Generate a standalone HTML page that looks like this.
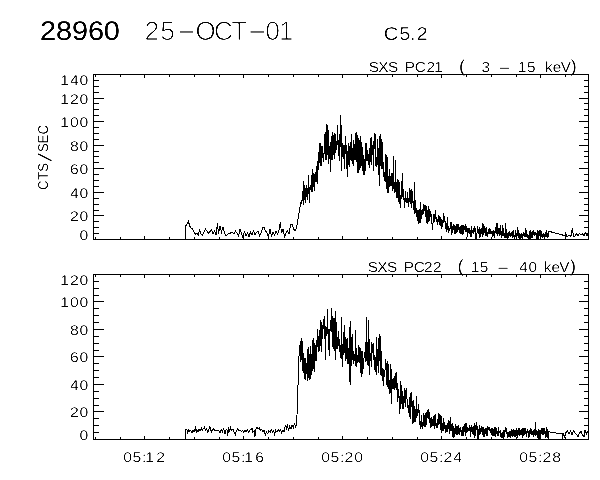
<!DOCTYPE html>
<html><head><meta charset="utf-8"><title>plot</title>
<style>html,body{margin:0;padding:0;background:#fff}svg{display:block}</style></head>
<body>
<svg width="600" height="480" viewBox="0 0 600 480">
<rect width="600" height="480" fill="#fff"/>
<g stroke="#000" stroke-width="1" fill="none" shape-rendering="crispEdges">
<rect x="93.5" y="74.5" width="495.0" height="165.0"/>
<rect x="93.5" y="274.5" width="495.0" height="165.0"/>
<path d="M93.5 239.5h10M588.5 239.5h-10M93.5 233.5h5M588.5 233.5h-5M93.5 227.5h5M588.5 227.5h-5M93.5 221.5h5M588.5 221.5h-5M93.5 215.5h10M588.5 215.5h-10M93.5 210.5h5M588.5 210.5h-5M93.5 204.5h5M588.5 204.5h-5M93.5 198.5h5M588.5 198.5h-5M93.5 192.5h10M588.5 192.5h-10M93.5 186.5h5M588.5 186.5h-5M93.5 180.5h5M588.5 180.5h-5M93.5 174.5h5M588.5 174.5h-5M93.5 168.5h10M588.5 168.5h-10M93.5 162.5h5M588.5 162.5h-5M93.5 156.5h5M588.5 156.5h-5M93.5 151.5h5M588.5 151.5h-5M93.5 145.5h10M588.5 145.5h-10M93.5 139.5h5M588.5 139.5h-5M93.5 133.5h5M588.5 133.5h-5M93.5 127.5h5M588.5 127.5h-5M93.5 121.5h10M588.5 121.5h-10M93.5 115.5h5M588.5 115.5h-5M93.5 109.5h5M588.5 109.5h-5M93.5 103.5h5M588.5 103.5h-5M93.5 98.5h10M588.5 98.5h-10M93.5 92.5h5M588.5 92.5h-5M93.5 86.5h5M588.5 86.5h-5M93.5 80.5h5M588.5 80.5h-5M93.5 74.5h10M588.5 74.5h-10M95.5 74.5v2.5M95.5 239.5v-2.5M120.5 74.5v2.5M120.5 239.5v-2.5M144.5 74.5v3.5M144.5 239.5v-3.5M169.5 74.5v2.5M169.5 239.5v-2.5M194.5 74.5v2.5M194.5 239.5v-2.5M219.5 74.5v2.5M219.5 239.5v-2.5M243.5 74.5v3.5M243.5 239.5v-3.5M268.5 74.5v2.5M268.5 239.5v-2.5M293.5 74.5v2.5M293.5 239.5v-2.5M318.5 74.5v2.5M318.5 239.5v-2.5M342.5 74.5v3.5M342.5 239.5v-3.5M367.5 74.5v2.5M367.5 239.5v-2.5M392.5 74.5v2.5M392.5 239.5v-2.5M417.5 74.5v2.5M417.5 239.5v-2.5M441.5 74.5v3.5M441.5 239.5v-3.5M466.5 74.5v2.5M466.5 239.5v-2.5M491.5 74.5v2.5M491.5 239.5v-2.5M516.5 74.5v2.5M516.5 239.5v-2.5M540.5 74.5v3.5M540.5 239.5v-3.5M565.5 74.5v2.5M565.5 239.5v-2.5"/>
<path d="M93.5 439.5h10M588.5 439.5h-10M93.5 432.5h5M588.5 432.5h-5M93.5 425.5h5M588.5 425.5h-5M93.5 418.5h5M588.5 418.5h-5M93.5 411.5h10M588.5 411.5h-10M93.5 405.5h5M588.5 405.5h-5M93.5 398.5h5M588.5 398.5h-5M93.5 391.5h5M588.5 391.5h-5M93.5 384.5h10M588.5 384.5h-10M93.5 377.5h5M588.5 377.5h-5M93.5 370.5h5M588.5 370.5h-5M93.5 363.5h5M588.5 363.5h-5M93.5 356.5h10M588.5 356.5h-10M93.5 350.5h5M588.5 350.5h-5M93.5 343.5h5M588.5 343.5h-5M93.5 336.5h5M588.5 336.5h-5M93.5 329.5h10M588.5 329.5h-10M93.5 322.5h5M588.5 322.5h-5M93.5 315.5h5M588.5 315.5h-5M93.5 308.5h5M588.5 308.5h-5M93.5 301.5h10M588.5 301.5h-10M93.5 295.5h5M588.5 295.5h-5M93.5 288.5h5M588.5 288.5h-5M93.5 281.5h5M588.5 281.5h-5M93.5 274.5h10M588.5 274.5h-10M95.5 274.5v2.5M95.5 439.5v-2.5M120.5 274.5v2.5M120.5 439.5v-2.5M144.5 274.5v3.5M144.5 439.5v-3.5M169.5 274.5v2.5M169.5 439.5v-2.5M194.5 274.5v2.5M194.5 439.5v-2.5M219.5 274.5v2.5M219.5 439.5v-2.5M243.5 274.5v3.5M243.5 439.5v-3.5M268.5 274.5v2.5M268.5 439.5v-2.5M293.5 274.5v2.5M293.5 439.5v-2.5M318.5 274.5v2.5M318.5 439.5v-2.5M342.5 274.5v3.5M342.5 439.5v-3.5M367.5 274.5v2.5M367.5 439.5v-2.5M392.5 274.5v2.5M392.5 439.5v-2.5M417.5 274.5v2.5M417.5 439.5v-2.5M441.5 274.5v3.5M441.5 439.5v-3.5M466.5 274.5v2.5M466.5 439.5v-2.5M491.5 274.5v2.5M491.5 439.5v-2.5M516.5 274.5v2.5M516.5 439.5v-2.5M540.5 274.5v3.5M540.5 439.5v-3.5M565.5 274.5v2.5M565.5 439.5v-2.5"/>
</g>
<g stroke="#000" stroke-width="1" fill="none" shape-rendering="crispEdges" stroke-linejoin="miter">
<polyline points="185.70,239.00 185.70,226.00 187.00,224.00 188.40,221.00 189.60,226.00 191.00,228.00 192.50,229.00 194.00,232.00 195.50,234.00 197.00,233.00 198.30,235.00 199.60,229.00 200.80,234.00 202.50,235.00 204.00,232.00 205.50,229.00 207.00,231.00 208.50,233.00 210.00,231.50 211.50,230.00 213.00,234.00 214.50,231.00 216.00,235.00 217.50,223.00 218.50,234.00 220.00,226.00 221.50,232.00 223.00,227.00 224.50,233.00 226.00,236.00 228.00,234.00 230.00,233.50 232.00,232.00 234.00,234.00 235.50,231.00 237.00,233.00 238.50,236.00 240.00,229.00 241.50,234.00 243.00,238.00 244.50,231.00 246.00,236.00 247.50,233.00 249.00,236.50 250.50,232.00 252.00,235.00 253.50,231.00 255.00,235.00 256.50,232.50 258.00,231.00 259.50,236.00 261.00,233.00 262.50,228.00 264.00,227.00 265.50,231.00 267.00,233.00 268.50,237.00 270.00,229.00 271.50,236.00 273.00,232.00 274.50,235.00 276.00,231.00 277.50,234.00 279.00,230.00 280.30,222.00 281.50,233.00 283.00,229.00 284.50,237.00 286.00,233.00 287.50,231.00 289.00,234.00 290.50,225.00 292.00,224.00 293.50,229.00 295.00,231.00 296.50,228.00 298.30,217.00 299.70,209.00 300.80,203.00 301.60,200.00 301.88,203.74 302.16,198.08 302.44,196.40 302.72,190.73 303.00,195.03 303.28,204.94 303.56,181.30 303.84,203.78 304.12,197.55 304.40,198.83 304.68,197.49 304.96,185.33 305.24,202.49 305.52,200.48 305.80,200.76 306.08,185.83 306.36,185.93 306.64,191.67 306.92,194.97 307.20,199.66 307.48,195.37 307.76,198.33 308.04,187.14 308.32,175.30 308.60,194.22 308.88,185.86 309.16,203.33 309.44,194.90 309.72,198.93 310.00,187.13 310.28,185.27 310.56,186.77 310.84,187.35 311.12,191.53 311.40,187.92 311.68,181.86 311.96,176.94 312.24,169.30 312.52,192.34 312.80,177.17 313.08,184.92 313.36,186.17 313.64,173.45 313.92,183.68 314.20,191.42 314.48,173.72 314.76,180.51 315.04,180.67 315.32,174.92 315.60,182.44 315.88,177.55 316.16,166.40 316.44,181.84 316.72,179.70 317.00,180.96 317.28,184.26 317.56,174.09 317.84,170.78 318.12,155.44 318.40,170.09 318.68,155.34 318.96,153.56 319.24,143.27 319.52,146.66 319.80,151.00 320.08,166.25 320.36,143.14 320.64,145.57 320.92,158.18 321.20,166.22 321.48,160.57 321.76,147.22 322.04,146.14 322.32,157.90 322.60,150.09 322.88,146.62 323.16,160.35 323.44,160.76 323.72,153.26 324.00,153.27 324.28,154.10 324.56,134.00 324.84,154.42 325.12,153.10 325.40,153.06 325.68,131.76 325.96,160.20 326.24,156.71 326.52,151.66 326.80,124.25 327.08,135.99 327.36,154.97 327.64,125.50 327.92,141.78 328.20,157.30 328.48,130.06 328.76,163.79 329.04,152.55 329.32,146.17 329.60,153.08 329.88,158.79 330.16,153.19 330.44,172.00 330.72,142.30 331.00,144.33 331.28,160.07 331.56,146.22 331.84,136.20 332.12,154.66 332.40,159.81 332.68,141.20 332.96,132.42 333.24,144.55 333.52,144.59 333.80,143.38 334.08,159.12 334.36,136.55 334.64,156.87 334.92,132.65 335.20,136.34 335.48,149.08 335.76,153.21 336.04,149.98 336.32,144.29 336.60,141.58 336.88,140.98 337.16,144.56 337.44,124.70 337.72,141.33 338.00,145.23 338.28,140.02 338.56,148.98 338.84,147.70 339.12,161.15 339.40,145.76 339.68,134.87 339.96,134.74 340.24,140.20 340.52,115.50 340.80,136.13 341.08,150.33 341.36,171.08 341.64,124.72 341.92,135.58 342.20,154.21 342.48,157.29 342.76,155.37 343.04,147.99 343.32,158.77 343.60,154.35 343.88,144.96 344.16,169.10 344.44,154.95 344.72,145.48 345.00,151.60 345.28,151.08 345.56,153.87 345.84,136.28 346.12,150.81 346.40,169.06 346.68,144.71 346.96,158.44 347.24,171.27 347.52,176.00 347.80,176.94 348.08,142.88 348.36,156.27 348.64,156.19 348.92,164.06 349.20,166.85 349.48,146.21 349.76,164.54 350.04,148.34 350.32,159.96 350.60,142.51 350.88,153.59 351.16,161.38 351.44,147.42 351.72,133.80 352.00,156.18 352.28,149.77 352.56,147.87 352.84,164.40 353.12,159.86 353.40,147.27 353.68,166.20 353.96,140.38 354.24,159.77 354.52,149.04 354.80,153.21 355.08,159.70 355.36,154.84 355.64,160.15 355.92,133.78 356.20,133.41 356.48,161.57 356.76,139.92 357.04,138.70 357.32,134.70 357.60,173.00 357.88,163.67 358.16,172.91 358.44,140.60 358.72,152.62 359.00,138.48 359.28,161.15 359.56,169.93 359.84,141.98 360.12,167.80 360.40,161.16 360.68,149.29 360.96,135.59 361.24,165.71 361.52,152.18 361.80,148.11 362.08,158.75 362.36,159.75 362.64,171.48 362.92,147.17 363.20,169.78 363.48,174.32 363.76,174.94 364.04,158.99 364.32,174.70 364.60,170.48 364.88,160.76 365.16,160.10 365.44,171.01 365.72,155.28 366.00,143.01 366.28,153.06 366.56,142.70 366.84,161.21 367.12,157.32 367.40,150.01 367.68,154.53 367.96,161.11 368.24,154.97 368.52,165.06 368.80,153.54 369.08,162.67 369.36,166.71 369.64,168.19 369.92,147.84 370.20,162.25 370.48,138.02 370.76,143.40 371.04,137.26 371.32,165.29 371.60,141.13 371.88,153.77 372.16,151.24 372.44,152.52 372.72,145.45 373.00,154.55 373.28,171.38 373.56,151.26 373.84,156.85 374.12,133.00 374.40,147.62 374.68,135.35 374.96,145.14 375.24,165.59 375.52,134.45 375.80,147.73 376.08,166.69 376.36,164.98 376.64,157.29 376.92,166.97 377.20,160.61 377.48,144.24 377.76,138.79 378.04,151.51 378.32,175.29 378.60,153.05 378.88,147.68 379.16,186.00 379.44,136.47 379.72,159.87 380.00,141.82 380.28,165.75 380.56,133.71 380.84,163.07 381.12,148.15 381.40,138.80 381.68,168.54 381.96,157.16 382.24,142.27 382.52,153.93 382.80,168.71 383.08,162.52 383.36,176.11 383.64,175.85 383.92,175.11 384.20,171.95 384.48,181.48 384.76,175.22 385.04,173.35 385.32,154.11 385.60,177.52 385.88,181.60 386.16,167.71 386.44,166.71 386.72,188.94 387.00,155.41 387.28,178.72 387.56,193.04 387.84,164.53 388.12,184.18 388.40,193.00 388.68,175.63 388.96,183.44 389.24,187.04 389.52,169.21 389.80,177.62 390.08,181.37 390.36,185.96 390.64,179.27 390.92,178.50 391.20,172.78 391.48,177.28 391.76,185.94 392.04,180.28 392.32,173.46 392.60,173.43 392.88,190.92 393.16,187.10 393.44,156.00 393.72,167.57 394.00,184.41 394.28,183.86 394.56,193.19 394.84,184.40 395.12,181.06 395.40,160.00 395.68,170.71 395.96,191.63 396.24,187.61 396.52,182.03 396.80,195.77 397.08,198.49 397.36,178.91 397.64,183.19 397.92,190.14 398.20,189.21 398.48,184.24 398.76,180.32 399.04,204.23 399.32,199.70 399.60,182.13 399.88,182.15 400.16,207.33 400.44,205.00 400.72,207.50 401.00,200.47 401.28,187.25 401.56,195.52 401.84,180.67 402.12,187.27 402.40,173.00 402.68,197.01 402.96,187.69 403.24,192.95 403.52,198.36 403.80,198.26 404.08,201.21 404.36,197.88 404.64,208.00 404.92,204.06 405.20,198.11 405.48,191.49 405.76,193.91 406.04,199.47 406.32,199.26 406.60,201.76 406.88,201.24 407.16,202.51 407.44,200.17 407.72,192.44 408.00,203.29 408.28,207.21 408.56,202.82 408.84,198.41 409.12,202.41 409.40,193.06 409.68,188.52 409.96,199.56 410.24,193.22 410.52,203.61 410.80,192.22 411.08,188.66 411.36,192.46 411.64,208.00 411.92,196.29 412.20,190.74 412.48,194.67 412.76,202.72 413.04,203.01 413.32,201.50 413.60,209.90 413.88,205.59 414.16,201.52 414.44,182.00 414.72,213.95 415.00,211.02 415.28,212.73 415.56,200.37 415.84,207.77 416.12,214.42 416.40,207.98 416.68,216.98 416.96,214.19 417.24,216.32 417.52,209.74 417.80,221.18 418.08,218.91 418.36,210.22 418.64,212.27 418.92,223.57 419.20,209.23 419.48,218.75 419.76,220.03 420.04,223.00 420.32,201.70 420.60,212.68 420.88,213.65 421.16,219.36 421.44,216.07 421.72,209.68 422.00,215.57 422.28,212.71 422.56,210.23 422.84,209.56 423.12,208.01 423.40,214.30 423.68,204.28 423.96,207.42 424.24,211.36 424.52,204.64 424.80,210.22 425.08,205.33 425.36,209.74 425.64,215.86 425.92,216.26 426.20,213.42 426.48,212.72 426.76,206.24 427.04,224.34 427.32,217.97 427.60,222.01 427.88,209.61 428.16,214.51 428.44,206.00 428.72,220.81 429.00,221.67 429.28,208.96 429.56,217.22 429.84,220.40 430.12,211.63 430.40,211.92 430.68,214.77 430.96,217.05 431.24,214.01 431.52,221.00 431.80,222.57 432.08,225.02 432.36,225.97 432.64,229.86 432.92,227.78 433.20,214.30 433.48,218.11 433.76,214.60 434.04,213.99 434.32,219.09 434.60,219.15 434.88,221.54 435.16,209.56 435.44,212.13 435.72,219.33 436.00,218.77 436.28,218.59 436.56,220.26 436.84,217.24 437.12,224.66 437.40,223.33 437.68,221.68 437.96,219.55 438.24,221.90 438.52,215.47 438.80,218.62 439.08,223.39 439.36,216.42 439.64,224.53 439.92,224.49 440.20,217.27 440.48,222.92 440.76,222.77 441.04,226.79 441.32,227.33 441.60,223.55 441.88,218.60 442.16,222.21 442.44,222.31 442.72,226.89 443.00,223.87 443.28,216.92 443.56,212.84 443.84,219.57 444.12,217.68 444.40,215.92 444.68,222.07 444.96,220.32 445.24,223.82 445.52,226.18 445.80,221.81 446.08,231.82 446.36,222.69 446.64,229.38 446.92,225.01 447.20,229.65 447.48,217.26 447.76,221.54 448.04,226.11 448.32,227.80 448.60,232.54 448.88,226.83 449.16,231.10 449.44,229.05 449.72,230.01 450.00,228.25 450.28,225.44 450.56,228.57 450.84,221.54 451.12,231.95 451.40,222.02 451.68,228.00 451.96,234.77 452.24,226.02 452.52,227.17 452.80,232.21 453.08,227.29 453.36,223.88 453.64,228.32 453.92,229.61 454.20,230.08 454.48,224.55 454.76,233.47 455.04,233.35 455.32,227.49 455.60,228.32 455.88,225.70 456.16,232.49 456.44,224.47 456.72,229.66 457.00,225.13 457.28,224.19 457.56,229.74 457.84,232.21 458.12,226.68 458.40,223.82 458.68,230.01 458.96,226.30 459.24,228.11 459.52,233.31 459.80,231.95 460.08,226.00 460.36,234.28 460.64,228.70 460.92,231.65 461.20,227.40 461.48,229.67 461.76,225.42 462.04,235.07 462.32,234.37 462.60,226.84 462.88,225.79 463.16,225.23 463.44,234.23 463.72,228.77 464.00,230.09 464.28,229.14 464.56,229.79 464.84,226.04 465.12,230.28 465.40,224.33 465.68,229.83 465.96,231.42 466.24,232.13 466.52,229.01 466.80,225.86 467.08,230.79 467.36,228.06 467.64,237.23 467.92,233.84 468.20,230.33 468.48,229.14 468.76,228.53 469.04,227.97 469.32,230.32 469.60,232.71 469.88,233.56 470.16,233.72 470.44,237.05 470.72,229.56 471.00,231.71 471.28,236.77 471.56,226.28 471.84,229.76 472.12,231.82 472.40,231.68 472.68,232.38 472.96,230.27 473.24,232.38 473.52,231.61 473.80,234.31 474.08,226.00 474.36,228.90 474.64,232.36 474.92,228.61 475.20,228.68 475.48,235.63 475.76,230.57 476.04,239.00 476.32,236.33 476.60,234.12 476.88,234.66 477.16,231.71 477.44,225.79 477.72,231.39 478.00,233.14 478.28,228.60 478.56,230.12 478.84,233.71 479.12,226.73 479.40,233.25 479.68,237.65 479.96,228.12 480.24,231.13 480.52,229.85 480.80,237.11 481.08,231.86 481.36,234.35 481.64,227.54 481.92,230.43 482.20,230.46 482.48,223.35 482.76,236.68 483.04,234.35 483.32,223.73 483.60,233.66 483.88,230.29 484.16,232.54 484.44,232.28 484.72,225.98 485.00,230.48 485.28,235.89 485.56,229.65 485.84,228.57 486.12,227.82 486.40,228.27 486.68,232.59 486.96,236.29 487.24,232.98 487.52,232.55 487.80,236.50 488.08,230.60 488.36,230.25 488.64,233.60 488.92,233.73 489.20,229.53 489.48,229.18 489.76,233.23 490.04,233.18 490.32,228.85 490.60,231.92 490.88,230.93 491.16,233.86 491.44,232.15 491.72,232.24 492.00,231.40 492.28,235.84 492.56,236.99 492.84,231.29 493.12,235.32 493.40,229.93 493.68,232.75 493.96,235.13 494.24,237.81 494.52,231.16 494.80,232.24 495.08,233.19 495.36,227.24 495.64,232.56 495.92,230.13 496.20,233.80 496.48,228.55 496.76,226.76 497.04,222.70 497.32,233.52 497.60,230.81 497.88,235.68 498.16,231.84 498.44,230.79 498.72,234.38 499.00,227.80 499.28,230.73 499.56,232.87 499.84,235.64 500.12,225.00 500.40,233.96 500.68,230.95 500.96,233.94 501.24,238.19 501.52,230.86 501.80,238.20 502.08,230.99 502.36,233.05 502.64,225.00 502.92,236.20 503.20,229.14 503.48,227.80 503.76,234.89 504.04,235.48 504.32,234.95 504.60,238.20 504.88,233.64 505.16,233.79 505.44,222.70 505.72,234.26 506.00,238.27 506.28,229.64 506.56,232.34 506.84,228.71 507.12,235.99 507.40,232.72 507.68,236.44 507.96,238.54 508.24,233.98 508.52,233.31 508.80,232.64 509.08,231.71 509.36,232.28 509.64,235.75 509.92,234.10 510.20,234.18 510.48,233.53 510.76,236.50 511.04,235.35 511.32,233.61 511.60,235.81 511.88,233.59 512.16,230.86 512.44,238.00 512.72,235.32 513.00,231.45 513.28,237.03 513.56,235.04 513.84,229.84 514.12,238.53 514.40,235.06 514.68,236.60 514.96,234.73 515.24,233.79 515.52,229.99 515.80,236.89 516.08,234.34 516.36,233.49 516.64,235.25 516.92,234.52 517.20,236.17 517.48,226.80 517.76,234.26 518.04,229.83 518.32,233.24 518.60,236.26 518.88,238.08 519.16,233.45 519.44,234.13 519.72,238.81 520.00,233.61 520.28,236.52 520.56,239.00 520.84,234.65 521.12,237.91 521.40,232.63 521.68,235.15 521.96,234.39 522.24,234.93 522.52,237.71 522.80,239.00 523.08,232.84 523.36,233.10 523.64,236.04 523.92,231.82 524.20,236.07 524.48,236.29 524.76,233.98 525.04,236.20 525.32,230.54 525.60,236.85 525.88,228.50 526.16,232.91 526.44,233.30 526.72,233.74 527.00,237.19 527.28,235.09 527.56,233.79 527.84,236.38 528.12,239.00 528.40,234.94 528.68,235.93 528.96,238.33 529.24,235.69 529.52,231.47 529.80,239.00 530.08,239.00 530.36,230.45 530.64,234.89 530.92,236.14 531.20,237.64 531.48,236.83 531.76,234.26 532.04,232.12 532.32,235.28 532.60,237.82 532.88,232.03 533.16,232.20 533.44,234.93 533.72,230.45 534.00,234.29 534.28,233.81 534.56,236.23 534.84,233.08 535.12,232.59 535.40,233.92 535.68,234.86 535.96,233.19 536.24,235.03 536.52,237.05 536.80,238.24 537.08,239.00 537.36,232.86 537.64,233.85 537.92,230.45 538.20,239.00 538.48,233.02 538.76,234.91 539.04,230.00 539.32,231.29 539.60,236.27 539.88,234.93 540.16,230.45 540.44,235.78 540.72,238.22 541.00,230.46 541.28,237.15 541.56,235.52 541.84,236.23 542.12,236.13 542.40,238.43 542.68,234.33 542.96,237.25 543.24,233.82 543.52,236.83 543.80,232.74 544.08,234.60 544.36,239.00 544.64,236.04 544.92,234.45 545.20,231.86 545.48,232.78 545.76,235.34 546.04,237.27 546.32,235.93 546.60,230.00 546.88,234.70 547.16,238.28 547.44,233.79 547.72,233.38 548.00,237.05 548.28,234.93 548.56,234.05 548.84,233.29 549.00,231.30 565.00,235.70 565.20,239.00 565.60,232.00 566.60,236.50 568.00,236.00 569.50,235.30 571.00,236.50 572.40,227.80 573.40,236.00 575.00,236.00 576.50,234.00 578.00,235.50 579.50,233.50 581.00,235.00 582.50,234.00 584.00,235.50 585.50,233.00 587.00,236.00 588.00,234.00"/>
<polyline points="185.70,439.00 185.70,429.90 186.90,429.50 187.70,432.50 188.50,430.10 189.70,431.10 190.90,430.50 192.10,432.90 192.90,430.10 194.10,431.50 195.30,428.90 195.70,426.10 196.10,432.50 196.90,429.90 198.10,432.10 198.90,429.10 200.10,430.50 201.30,428.10 202.10,430.50 203.30,428.90 204.50,426.90 205.30,430.50 206.50,428.90 207.70,432.10 208.90,429.50 209.70,426.10 210.50,429.50 211.70,432.10 212.50,430.10 213.70,428.90 214.90,430.50 216.50,430.50 218.90,430.50 220.10,432.90 221.30,429.50 222.50,431.50 223.70,428.90 224.90,434.10 225.70,430.50 226.90,429.50 227.70,436.10 228.50,427.50 229.70,431.50 230.50,427.50 231.70,430.50 232.90,428.90 234.10,432.10 235.30,434.50 236.50,430.50 237.70,428.90 238.90,430.50 240.10,429.90 241.30,431.50 242.50,430.50 243.70,432.50 244.90,430.50 246.10,432.10 247.30,429.70 248.50,432.10 249.70,430.50 250.90,429.50 252.10,428.50 252.90,432.50 254.10,430.50 254.90,436.50 255.70,429.50 256.90,427.50 258.10,428.90 259.30,428.10 260.50,430.50 261.70,429.50 262.90,432.10 264.10,430.50 265.30,434.90 266.50,432.10 267.70,433.50 268.90,430.50 270.10,432.50 271.30,429.50 272.50,432.10 273.70,430.50 274.50,435.50 275.70,430.50 276.90,432.10 278.10,429.50 279.30,431.50 280.50,429.50 281.70,432.90 282.90,430.50 284.10,431.50 284.90,427.50 285.70,425.50 286.50,429.50 287.30,424.50 288.50,430.50 289.70,426.10 290.90,428.90 292.10,424.90 293.30,428.10 294.50,422.90 295.70,427.50 296.50,422.50 297.00,415.00 298.60,368.00 299.40,345.00 300.00,350.79 300.28,361.93 300.56,358.82 300.84,340.54 301.12,360.19 301.40,357.84 301.68,345.19 301.96,337.80 302.24,354.47 302.52,354.51 302.80,366.79 303.08,372.59 303.36,353.06 303.64,365.15 303.92,352.80 304.20,378.81 304.48,358.21 304.76,375.55 305.04,358.49 305.32,373.00 305.60,379.85 305.88,358.37 306.16,368.03 306.44,373.55 306.72,369.59 307.00,364.44 307.28,380.52 307.56,367.13 307.84,348.91 308.12,373.65 308.40,347.09 308.68,377.60 308.96,359.16 309.24,367.34 309.52,380.05 309.80,367.62 310.08,350.52 310.36,346.44 310.64,379.49 310.92,373.93 311.20,354.22 311.48,374.87 311.76,369.89 312.04,371.40 312.32,340.43 312.60,356.99 312.88,370.56 313.16,367.21 313.44,367.56 313.72,338.36 314.00,357.28 314.28,359.94 314.56,371.69 314.84,342.99 315.12,348.88 315.40,352.04 315.68,360.50 315.96,345.27 316.24,361.37 316.52,340.06 316.80,349.86 317.08,341.13 317.36,346.72 317.64,338.04 317.92,329.43 318.20,352.33 318.48,344.96 318.76,336.30 319.04,343.19 319.32,350.97 319.60,329.68 319.88,338.48 320.16,345.44 320.44,345.01 320.72,334.99 321.00,319.65 321.28,352.28 321.56,341.65 321.84,337.81 322.12,334.11 322.40,339.48 322.68,331.44 322.96,324.71 323.24,327.24 323.52,328.21 323.80,327.60 324.08,316.20 324.36,338.87 324.64,322.04 324.92,338.92 325.20,325.53 325.48,360.00 325.76,343.91 326.04,335.41 326.32,328.25 326.60,333.96 326.88,334.63 327.16,318.24 327.44,309.50 327.72,334.33 328.00,328.30 328.28,333.23 328.56,339.07 328.84,339.18 329.12,356.00 329.40,337.18 329.68,329.09 329.96,331.36 330.24,329.15 330.52,328.85 330.80,330.18 331.08,316.42 331.36,328.93 331.64,331.95 331.92,308.30 332.20,332.18 332.48,337.56 332.76,331.15 333.04,348.63 333.32,317.57 333.60,331.36 333.88,318.38 334.16,343.00 334.44,350.98 334.72,318.01 335.00,337.40 335.28,342.65 335.56,311.00 335.84,359.50 336.12,321.53 336.40,348.64 336.68,344.45 336.96,341.89 337.24,337.33 337.52,348.63 337.80,339.51 338.08,345.88 338.36,340.25 338.64,331.37 338.92,345.03 339.20,347.29 339.48,351.86 339.76,338.71 340.04,345.25 340.32,350.46 340.60,346.34 340.88,355.66 341.16,359.40 341.44,317.00 341.72,327.70 342.00,355.11 342.28,365.01 342.56,367.00 342.84,356.69 343.12,337.16 343.40,335.89 343.68,354.98 343.96,333.58 344.24,325.47 344.52,332.85 344.80,330.00 345.08,360.64 345.36,337.79 345.64,338.02 345.92,348.00 346.20,339.12 346.48,359.40 346.76,346.76 347.04,337.92 347.32,364.29 347.60,345.13 347.88,356.98 348.16,355.79 348.44,352.97 348.72,364.46 349.00,347.69 349.28,382.00 349.56,330.77 349.84,337.59 350.12,321.00 350.40,385.00 350.68,360.63 350.96,367.99 351.24,359.88 351.52,345.64 351.80,346.71 352.08,334.42 352.36,352.73 352.64,359.28 352.92,359.67 353.20,352.72 353.48,352.20 353.76,363.52 354.04,354.15 354.32,361.23 354.60,359.60 354.88,356.01 355.16,366.06 355.44,330.00 355.72,351.53 356.00,348.29 356.28,348.89 356.56,366.42 356.84,366.79 357.12,355.50 357.40,358.84 357.68,362.70 357.96,359.91 358.24,362.43 358.52,344.60 358.80,348.64 359.08,356.21 359.36,363.17 359.64,354.11 359.92,346.70 360.20,351.75 360.48,349.31 360.76,347.60 361.04,375.19 361.32,351.06 361.60,374.50 361.88,377.24 362.16,370.52 362.44,360.63 362.72,350.79 363.00,359.91 363.28,369.41 363.56,360.25 363.84,364.74 364.12,354.92 364.40,357.60 364.68,351.58 364.96,355.75 365.24,362.14 365.52,341.90 365.80,352.04 366.08,354.28 366.36,348.27 366.64,317.00 366.92,358.54 367.20,365.31 367.48,357.57 367.76,355.34 368.04,340.92 368.32,365.95 368.60,320.30 368.88,353.43 369.16,374.50 369.44,353.91 369.72,338.80 370.00,356.37 370.28,361.15 370.56,356.34 370.84,358.66 371.12,349.92 371.40,366.73 371.68,350.21 371.96,341.53 372.24,352.80 372.52,347.50 372.80,344.80 373.08,350.10 373.36,356.45 373.64,343.27 373.92,353.72 374.20,370.28 374.48,363.57 374.76,355.29 375.04,359.04 375.32,356.76 375.60,358.21 375.88,369.12 376.16,375.00 376.44,336.54 376.72,360.09 377.00,346.81 377.28,366.02 377.56,348.79 377.84,356.49 378.12,372.62 378.40,342.50 378.68,341.53 378.96,337.94 379.24,339.50 379.52,334.24 379.80,361.13 380.08,348.11 380.36,335.77 380.64,339.66 380.92,375.30 381.20,350.97 381.48,356.78 381.76,365.38 382.04,376.96 382.32,381.44 382.60,376.13 382.88,368.36 383.16,370.16 383.44,386.31 383.72,385.18 384.00,369.47 384.28,377.15 384.56,375.69 384.84,373.63 385.12,368.57 385.40,360.98 385.68,368.73 385.96,359.50 386.24,385.23 386.52,378.80 386.80,363.46 387.08,385.89 387.36,381.40 387.64,360.53 387.92,387.10 388.20,381.05 388.48,389.48 388.76,364.47 389.04,381.45 389.32,381.25 389.60,379.74 389.88,394.00 390.16,390.86 390.44,364.37 390.72,368.73 391.00,368.88 391.28,378.61 391.56,404.00 391.84,389.55 392.12,388.81 392.40,385.76 392.68,379.09 392.96,380.02 393.24,389.37 393.52,386.72 393.80,380.94 394.08,377.39 394.36,390.19 394.64,375.73 394.92,384.49 395.20,388.29 395.48,378.33 395.76,386.42 396.04,372.49 396.32,390.23 396.60,386.05 396.88,374.41 397.16,393.44 397.44,383.36 397.72,402.04 398.00,388.70 398.28,393.07 398.56,397.69 398.84,392.05 399.12,398.92 399.40,414.00 399.68,404.52 399.96,397.10 400.24,399.51 400.52,381.07 400.80,408.72 401.08,398.40 401.36,384.60 401.64,399.39 401.92,402.28 402.20,406.25 402.48,390.76 402.76,408.85 403.04,396.49 403.32,408.94 403.60,395.84 403.88,401.27 404.16,393.55 404.44,387.91 404.72,403.07 405.00,401.36 405.28,406.88 405.56,403.17 405.84,394.21 406.12,387.64 406.40,395.82 406.68,396.72 406.96,396.82 407.24,407.70 407.52,406.99 407.80,403.39 408.08,406.92 408.36,405.07 408.64,408.05 408.92,412.37 409.20,414.32 409.48,402.72 409.76,397.04 410.04,419.08 410.32,408.91 410.60,416.57 410.88,393.31 411.16,403.87 411.44,406.59 411.72,392.34 412.00,400.47 412.28,413.74 412.56,418.21 412.84,423.98 413.12,403.23 413.40,400.14 413.68,417.91 413.96,422.56 414.24,417.76 414.52,406.43 414.80,421.96 415.08,421.25 415.36,418.52 415.64,409.20 415.92,414.83 416.20,418.06 416.48,405.89 416.76,395.56 417.04,411.81 417.32,413.07 417.60,409.11 417.88,416.32 418.16,404.23 418.44,408.34 418.72,406.59 419.00,413.46 419.28,422.45 419.56,410.45 419.84,424.92 420.12,425.03 420.40,421.71 420.68,421.89 420.96,428.81 421.24,419.69 421.52,420.17 421.80,415.18 422.08,423.64 422.36,428.71 422.64,424.36 422.92,423.92 423.20,420.29 423.48,422.39 423.76,413.18 424.04,427.27 424.32,418.93 424.60,415.00 424.88,416.95 425.16,416.53 425.44,425.72 425.72,426.53 426.00,412.75 426.28,424.64 426.56,423.85 426.84,415.25 427.12,409.72 427.40,413.18 427.68,413.21 427.96,417.95 428.24,414.79 428.52,409.17 428.80,419.29 429.08,412.21 429.36,423.48 429.64,415.85 429.92,418.79 430.20,418.64 430.48,420.03 430.76,427.65 431.04,426.37 431.32,425.78 431.60,424.95 431.88,416.53 432.16,421.64 432.44,421.67 432.72,419.28 433.00,426.46 433.28,419.99 433.56,419.91 433.84,418.05 434.12,414.83 434.40,425.42 434.68,428.60 434.96,422.86 435.24,417.28 435.52,413.83 435.80,422.43 436.08,427.32 436.36,422.76 436.64,425.72 436.92,428.33 437.20,426.50 437.48,418.55 437.76,425.92 438.04,424.45 438.32,412.99 438.60,418.86 438.88,414.03 439.16,420.69 439.44,424.20 439.72,416.46 440.00,413.84 440.28,428.03 440.56,423.94 440.84,429.60 441.12,416.07 441.40,428.40 441.68,431.99 441.96,432.47 442.24,422.61 442.52,425.55 442.80,423.42 443.08,430.33 443.36,430.53 443.64,425.49 443.92,418.45 444.20,429.03 444.48,423.62 444.76,428.64 445.04,427.25 445.32,432.50 445.60,430.63 445.88,425.44 446.16,428.05 446.44,432.43 446.72,424.78 447.00,428.16 447.28,431.02 447.56,431.36 447.84,428.35 448.12,420.34 448.40,420.27 448.68,426.97 448.96,427.56 449.24,433.87 449.52,421.22 449.80,431.81 450.08,430.24 450.36,417.46 450.64,422.23 450.92,427.90 451.20,424.46 451.48,426.63 451.76,430.54 452.04,423.27 452.32,431.15 452.60,424.72 452.88,437.00 453.16,432.28 453.44,425.62 453.72,430.63 454.00,437.73 454.28,429.14 454.56,428.27 454.84,432.53 455.12,427.32 455.40,433.73 455.68,423.68 455.96,431.43 456.24,426.98 456.52,425.85 456.80,435.19 457.08,425.62 457.36,434.98 457.64,431.15 457.92,433.98 458.20,425.10 458.48,432.88 458.76,433.70 459.04,428.13 459.32,428.32 459.60,434.72 459.88,429.84 460.16,428.05 460.44,427.61 460.72,431.40 461.00,431.24 461.28,430.97 461.56,435.93 461.84,429.84 462.12,432.45 462.40,435.57 462.68,427.50 462.96,434.19 463.24,436.31 463.52,425.84 463.80,426.57 464.08,426.63 464.36,424.17 464.64,431.90 464.92,423.79 465.20,431.97 465.48,435.67 465.76,423.41 466.04,428.50 466.32,422.82 466.60,432.89 466.88,426.39 467.16,428.45 467.44,429.95 467.72,432.12 468.00,428.58 468.28,430.20 468.56,428.10 468.84,430.87 469.12,426.01 469.40,430.94 469.68,424.56 469.96,429.16 470.24,437.22 470.52,431.55 470.80,426.93 471.08,432.37 471.36,427.86 471.64,425.25 471.92,428.37 472.20,433.60 472.48,432.18 472.76,430.26 473.04,426.98 473.32,426.23 473.60,435.39 473.88,431.01 474.16,426.20 474.44,423.05 474.72,424.07 475.00,437.76 475.28,424.68 475.56,429.81 475.84,431.31 476.12,429.42 476.40,428.76 476.68,422.47 476.96,424.15 477.24,439.00 477.52,425.67 477.80,435.97 478.08,439.00 478.36,428.94 478.64,432.42 478.92,437.09 479.20,424.71 479.48,434.50 479.76,433.41 480.04,427.80 480.32,433.96 480.60,427.67 480.88,428.45 481.16,432.00 481.44,425.64 481.72,431.95 482.00,428.99 482.28,427.22 482.56,430.77 482.84,434.93 483.12,430.62 483.40,436.59 483.68,427.61 483.96,426.91 484.24,437.44 484.52,433.05 484.80,435.02 485.08,428.19 485.36,434.33 485.64,432.14 485.92,433.55 486.20,431.14 486.48,435.71 486.76,428.68 487.04,427.58 487.32,425.77 487.60,435.55 487.88,428.68 488.16,427.67 488.44,428.13 488.72,429.95 489.00,427.16 489.28,430.62 489.56,429.55 489.84,429.88 490.12,428.66 490.40,432.17 490.68,430.73 490.96,432.85 491.24,433.51 491.52,434.02 491.80,427.57 492.08,431.46 492.36,430.53 492.64,435.72 492.92,427.78 493.20,430.61 493.48,431.98 493.76,431.78 494.04,436.25 494.32,431.30 494.60,436.08 494.88,427.65 495.16,426.88 495.44,436.85 495.72,434.08 496.00,434.21 496.28,432.92 496.56,434.15 496.84,428.33 497.12,435.68 497.40,430.68 497.68,435.72 497.96,432.74 498.24,427.03 498.52,428.30 498.80,436.02 499.08,431.99 499.36,431.18 499.64,433.16 499.92,431.10 500.20,430.74 500.48,432.71 500.76,432.84 501.04,437.01 501.32,432.54 501.60,437.47 501.88,437.47 502.16,437.47 502.44,435.63 502.72,432.80 503.00,432.82 503.28,439.00 503.56,430.18 503.84,432.20 504.12,430.45 504.40,437.39 504.68,434.03 504.96,431.04 505.24,427.42 505.52,432.34 505.80,431.33 506.08,429.43 506.36,429.38 506.64,427.94 506.92,434.40 507.20,432.66 507.48,437.54 507.76,432.87 508.04,432.59 508.32,436.93 508.60,433.33 508.88,433.40 509.16,431.90 509.44,431.23 509.72,437.05 510.00,435.66 510.28,437.51 510.56,431.86 510.84,432.90 511.12,430.32 511.40,435.51 511.68,428.82 511.96,434.35 512.24,435.85 512.52,436.74 512.80,430.00 513.08,435.80 513.36,430.60 513.64,430.45 513.92,428.79 514.20,435.96 514.48,437.38 514.76,430.83 515.04,430.33 515.32,431.56 515.60,437.44 515.88,435.51 516.16,430.99 516.44,427.70 516.72,430.62 517.00,436.06 517.28,437.47 517.56,431.82 517.84,430.58 518.12,431.12 518.40,427.74 518.68,435.28 518.96,429.45 519.24,435.74 519.52,427.77 519.80,428.93 520.08,433.50 520.36,430.42 520.64,434.95 520.92,432.69 521.20,429.24 521.48,434.50 521.76,435.15 522.04,427.82 522.32,437.57 522.60,434.16 522.88,434.93 523.16,427.84 523.44,430.61 523.72,431.70 524.00,435.88 524.28,428.47 524.56,430.16 524.84,427.87 525.12,432.04 525.40,433.76 525.68,427.86 525.96,431.01 526.24,434.24 526.52,437.39 526.80,434.68 527.08,431.84 527.36,429.26 527.64,429.97 527.92,430.76 528.20,433.15 528.48,432.57 528.76,437.64 529.04,433.56 529.32,429.54 529.60,437.28 529.88,435.51 530.16,433.00 530.44,430.56 530.72,427.74 531.00,429.65 531.28,435.40 531.56,430.30 531.84,428.75 532.12,433.26 532.40,433.40 532.68,434.48 532.96,434.63 533.24,436.88 533.52,430.15 533.80,435.59 534.08,429.70 534.36,434.74 534.64,433.19 534.92,433.38 535.20,421.80 535.48,432.61 535.76,435.99 536.04,435.29 536.32,433.08 536.60,430.99 536.88,430.45 537.16,431.13 537.44,432.10 537.72,432.63 538.00,437.64 538.28,434.60 538.56,439.00 538.84,430.19 539.12,430.64 539.40,431.80 539.68,433.31 539.96,439.00 540.24,437.46 540.52,431.10 540.80,435.90 541.08,427.88 541.36,432.73 541.64,433.56 541.92,433.31 542.20,434.51 542.48,433.57 542.76,433.22 543.04,427.88 543.32,430.66 543.60,427.88 543.88,434.59 544.16,433.65 544.44,432.18 544.72,430.35 545.00,431.05 545.28,437.62 545.56,437.62 545.84,432.58 546.12,436.52 546.40,428.11 546.68,427.88 546.96,431.34 547.24,430.19 547.52,431.11 547.80,433.30 548.08,439.00 548.30,431.80 562.50,434.00 562.70,439.00 563.00,433.00 564.50,437.00 566.00,432.50 567.50,430.50 569.00,434.00 570.50,431.00 572.00,434.50 573.50,431.00 575.00,433.00 576.50,434.50 578.00,436.50 579.50,433.00 581.00,431.50 582.50,435.00 584.00,437.00 585.00,430.00 586.50,434.00 588.00,431.00"/>
</g>
<defs><filter id="thr" filterUnits="userSpaceOnUse" x="0" y="0" width="600" height="480" color-interpolation-filters="sRGB"><feFlood flood-color="#fff" result="w"/><feComposite in="SourceGraphic" in2="w" operator="over"/><feColorMatrix type="matrix" values="0 0 0 0 0  0 0 0 0 0  0 0 0 0 0  -1 0 0 0 1"/><feComponentTransfer><feFuncA type="table" tableValues="0 0 0.7 1 1"/></feComponentTransfer></filter><filter id="thrL" filterUnits="userSpaceOnUse" x="0" y="0" width="600" height="480" color-interpolation-filters="sRGB"><feFlood flood-color="#fff" result="w"/><feComposite in="SourceGraphic" in2="w" operator="over"/><feColorMatrix type="matrix" values="0 0 0 0 0  0 0 0 0 0  0 0 0 0 0  -1 0 0 0 1"/><feComponentTransfer><feFuncA type="table" tableValues="0 0 0.8 1 1"/></feComponentTransfer></filter><filter id="thrC" filterUnits="userSpaceOnUse" x="0" y="0" width="600" height="480" color-interpolation-filters="sRGB"><feFlood flood-color="#fff" result="w"/><feComposite in="SourceGraphic" in2="w" operator="over"/><feColorMatrix type="matrix" values="0 0 0 0 0  0 0 0 0 0  0 0 0 0 0  -1 0 0 0 1"/><feComponentTransfer><feFuncA type="table" tableValues="0 0 0.8 1 1"/></feComponentTransfer></filter><filter id="thrT" filterUnits="userSpaceOnUse" x="0" y="0" width="600" height="480" color-interpolation-filters="sRGB"><feFlood flood-color="#fff" result="w"/><feComposite in="SourceGraphic" in2="w" operator="over"/><feColorMatrix type="matrix" values="0 0 0 0 0  0 0 0 0 0  0 0 0 0 0  -1 0 0 0 1"/><feComponentTransfer><feFuncA type="table" tableValues="0 0 0.8 1 1"/></feComponentTransfer></filter><filter id="thrS" filterUnits="userSpaceOnUse" x="0" y="0" width="600" height="480" color-interpolation-filters="sRGB"><feFlood flood-color="#fff" result="w"/><feComposite in="SourceGraphic" in2="w" operator="over"/><feColorMatrix type="matrix" values="0 0 0 0 0  0 0 0 0 0  0 0 0 0 0  -1 0 0 0 1"/><feComponentTransfer><feFuncA type="table" tableValues="0 0 0.8 1 1"/></feComponentTransfer></filter></defs>
<g font-family="Liberation Sans, Arial, sans-serif" fill="#000" text-rendering="geometricPrecision" style="white-space:pre">
<g filter="url(#thr)">
<text xml:space="preserve" transform="translate(0,40.2) scale(1.07,1)" x="37.47 52.42 67.26 82.24 97.05" y="0" font-size="27" >28960</text>
</g><g filter="url(#thrL)">
<text xml:space="preserve" transform="translate(0,40) scale(1.0,1)" x="144.55 160.18 181.97 195.16 213.73 231.28 252.77 265.30 278.79" y="0 0 -1.5 0 0 0 -1.5 0 0" font-size="26.6" stroke="#fff" stroke-width="1.0">25<tspan x="175.22" textLength="22.37" lengthAdjust="spacingAndGlyphs">-</tspan>OCT<tspan x="246.02" textLength="22.37" lengthAdjust="spacingAndGlyphs">-</tspan>01</text>
</g><g filter="url(#thrC)">
<text xml:space="preserve" transform="translate(0,39.8) scale(1.08,1)" x="355.39 369.66 379.64 385.75" y="0" font-size="18.6" stroke="#fff" stroke-width="0.3">C5.2</text>
</g><g filter="url(#thrT)">
<text xml:space="preserve" transform="translate(0,72) scale(1.06,1)" x="347.90 356.95 366.11 375.78 381.84 391.32 402.29 409.73 417.80 433.11 437.94 441.97 454.36 462.42 473.39 478.22 488.46 497.11 505.18 514.08 521.52 528.94 538.21" y="0" font-size="14.5" stroke="#fff" stroke-width="0.22">SXS PC21 <tspan font-size="17.7">(</tspan>  3 <tspan x="469.37" textLength="12.87" lengthAdjust="spacingAndGlyphs">-</tspan> 15 keV<tspan font-size="17.7">)</tspan></text>
<text xml:space="preserve" transform="translate(0,272) scale(1.06,1)" x="346.87 355.91 365.07 374.74 380.80 390.29 400.12 408.52 416.58 431.56 436.38 444.17 452.59 460.65 472.16 476.99 489.98 498.47 506.53 513.09 520.37 527.62 537.46" y="0" font-size="14.5" stroke="#fff" stroke-width="0.22">SXS PC22 <tspan font-size="17.7">(</tspan> 15 <tspan x="468.14" textLength="12.87" lengthAdjust="spacingAndGlyphs">-</tspan> 40 keV<tspan font-size="17.7">)</tspan></text>
</g><g filter="url(#thrS)" stroke="#fff" stroke-width="0.22">
<text xml:space="preserve" transform="translate(47.9,189.0) rotate(-90) scale(0.92,1)" x="-0.96 9.88 18.71 29.87 40.18 49.35 59.15" y="0 0 0 3.4 0 0 0" font-size="14.3" >CTS<tspan font-size="20.5" rotate="14">/</tspan>SEC</text>
<text xml:space="preserve" transform="translate(0,221.4) scale(1.12,1)" x="62.46 70.99" y="0" font-size="14.1" >20</text>
<text xml:space="preserve" transform="translate(0,198.4) scale(1.12,1)" x="62.51 70.99" y="0" font-size="14.1" >40</text>
<text xml:space="preserve" transform="translate(0,174.4) scale(1.12,1)" x="62.41 70.99" y="0" font-size="14.1" >60</text>
<text xml:space="preserve" transform="translate(0,151.4) scale(1.12,1)" x="62.46 70.99" y="0" font-size="14.1" >80</text>
<text xml:space="preserve" transform="translate(0,127.4) scale(1.12,1)" x="53.74 62.46 70.99" y="0" font-size="14.1" >100</text>
<text xml:space="preserve" transform="translate(0,104.4) scale(1.12,1)" x="53.74 62.46 70.99" y="0" font-size="14.1" >120</text>
<text xml:space="preserve" transform="translate(0,239.7) scale(1.12,1)" x="70.99" y="0" font-size="14.1" >0</text>
<text xml:space="preserve" transform="translate(0,84.7) scale(1.12,1)" x="53.74 62.51 70.99" y="0" font-size="14.1" >140</text>
<text xml:space="preserve" transform="translate(0,417.4) scale(1.12,1)" x="62.46 70.99" y="0" font-size="14.1" >20</text>
<text xml:space="preserve" transform="translate(0,390.4) scale(1.12,1)" x="62.51 70.99" y="0" font-size="14.1" >40</text>
<text xml:space="preserve" transform="translate(0,362.4) scale(1.12,1)" x="62.41 70.99" y="0" font-size="14.1" >60</text>
<text xml:space="preserve" transform="translate(0,335.4) scale(1.12,1)" x="62.46 70.99" y="0" font-size="14.1" >80</text>
<text xml:space="preserve" transform="translate(0,307.4) scale(1.12,1)" x="53.74 62.46 70.99" y="0" font-size="14.1" >100</text>
<text xml:space="preserve" transform="translate(0,439.7) scale(1.12,1)" x="70.99" y="0" font-size="14.1" >0</text>
<text xml:space="preserve" transform="translate(0,284.7) scale(1.12,1)" x="53.74 62.46 70.99" y="0" font-size="14.1" >120</text>
<text xml:space="preserve" transform="translate(0,461.8) scale(1.12,1)" x="110.14 118.41 126.84 129.77 139.47" y="0" font-size="14.1" >05:12</text>
<text xml:space="preserve" transform="translate(0,461.8) scale(1.12,1)" x="198.53 206.81 215.23 218.16 227.82" y="0" font-size="14.1" >05:16</text>
<text xml:space="preserve" transform="translate(0,461.8) scale(1.12,1)" x="286.93 295.20 303.62 307.64 316.26" y="0" font-size="14.1" >05:20</text>
<text xml:space="preserve" transform="translate(0,461.8) scale(1.12,1)" x="375.32 383.59 392.01 396.03 404.70" y="0" font-size="14.1" >05:24</text>
<text xml:space="preserve" transform="translate(0,461.8) scale(1.12,1)" x="463.71 471.99 480.41 484.43 493.04" y="0" font-size="14.1" >05:28</text>
</g></g>
</svg>
</body></html>
